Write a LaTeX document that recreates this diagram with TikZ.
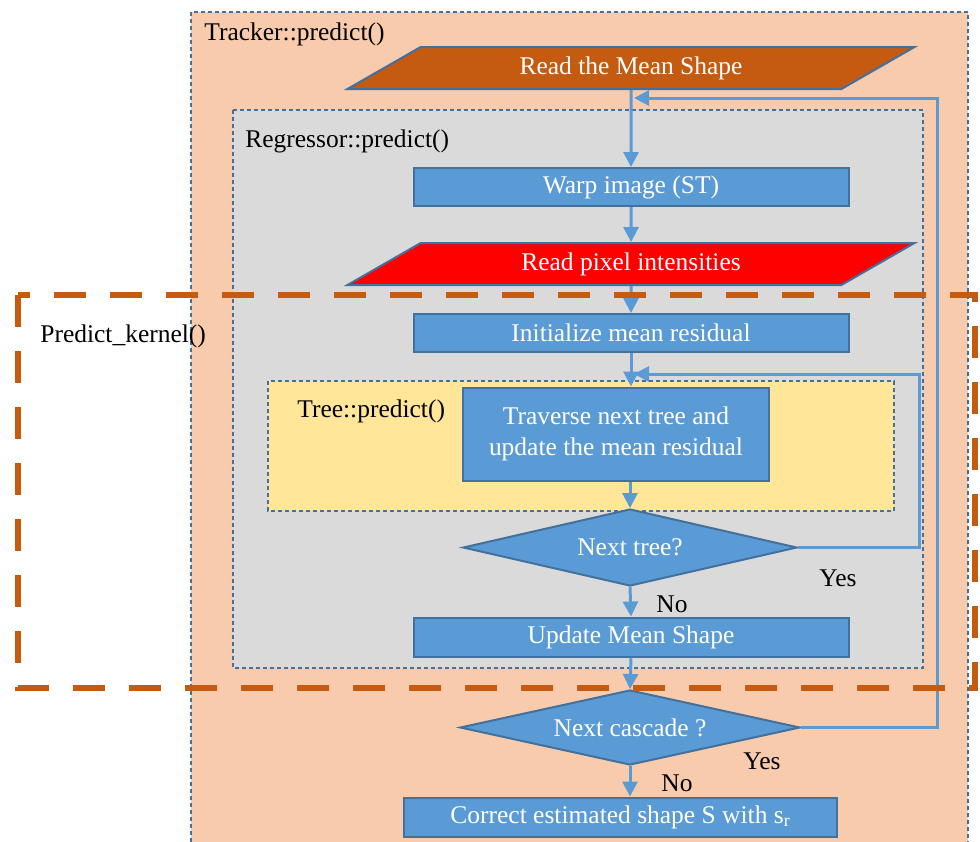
\documentclass[tikz,border=0pt]{standalone}
\usepackage{fontspec}
\setmainfont{Liberation Serif}
\usepackage{xcolor}
\usetikzlibrary{positioning,arrows.meta,shapes.geometric}
\definecolor{trackerPeach}{HTML}{F8CBAD}
\definecolor{regressorGrey}{HTML}{DADADA}
\definecolor{treeYellow}{HTML}{FFE699}
\definecolor{stepBlue}{HTML}{5B9BD5}
\definecolor{edgeBlue}{HTML}{41719C}
\definecolor{meanOrange}{HTML}{C55A11}
\definecolor{pixelRed}{HTML}{FF0000}

\begin{document}
\begin{tikzpicture}[
  x=0.2mm,y=-0.2mm,
  font=\fontsize{14.5}{17.6}\selectfont,
  box/.style={draw=edgeBlue,fill=stepBlue,line width=0.4mm,text=white,align=center,inner sep=2pt,minimum width=87mm,minimum height=7.6mm},
  io/.style={trapezium,trapezium left angle=20,trapezium right angle=160,trapezium stretches body,draw=edgeBlue,line width=0.4mm,text=white,inner sep=1pt,minimum width=113.4mm,minimum height=8.4mm},
  dec/.style={diamond,aspect=4.4,draw=edgeBlue,fill=stepBlue,line width=0.4mm,text=white,inner sep=0pt},
  frame/.style={draw=edgeBlue,line width=0.25mm,dash pattern=on 0.8mm off 0.6mm},
  kernelframe/.style={draw=meanOrange,line width=1.1mm,dash pattern=on 6.4mm off 4.8mm},
  lbl/.style={anchor=west,inner sep=0pt},
  arr/.style={-{Triangle[length=3mm,width=3mm]},line width=0.6mm,stepBlue}
]
\useasboundingbox (0,0) rectangle (980,841);
\clip (0,0) rectangle (980,841);

% nested scopes of the code
\draw[frame,fill=trackerPeach] (191,12) rectangle (968,880);
\draw[frame,fill=regressorGrey] (233,110) rectangle (923,668);
\draw[frame,fill=treeYellow] (268,381) rectangle (894,511);
\node[lbl] (tracker) at (204,34) {Tracker::predict()};
\node[lbl] (regressor) at (245,141) {Regressor::predict()};
\node[lbl] (tree) at (297,411) {Tree::predict()};

% main column
\node[io,fill=meanOrange] (meanshape) at (631,68) {Read the Mean Shape};
\node[box] (warp) at (631,187) {Warp image (ST)};
\node[io,fill=pixelRed] (pixels) at (631,264) {Read pixel intensities};
\node[box] (initres) at (631,333) {Initialize mean residual};
\node[box,minimum width=61.2mm,minimum height=18.6mm] (traverse) at (616,434) {Traverse next tree and\\update the mean residual};
\node[dec,minimum width=66.8mm,minimum height=15.4mm] (nexttree) at (630,547.5) {Next tree?};
\node[box,minimum height=7.8mm] (update) at (631,637) {Update Mean Shape};
\node[dec,minimum width=68mm,minimum height=15mm] (nextcasc) at (630,727.5) {Next cascade ?};
\node[box,minimum width=86.6mm,minimum height=7.8mm] (correct) at (620.5,817) {Correct estimated shape S with s\textsubscript{r}};

\node (yestree) at (838,578) {Yes};
\node (notree) at (672,604) {No};
\node (yescasc) at (762,761) {Yes};
\node (nocasc) at (677,783) {No};

\coordinate (treeright) at (919,374);
\coordinate (treejoin) at (634,374);
\coordinate (cascright) at (937,98);
\coordinate (cascjoin) at (634,98);

\draw[arr] (meanshape.south) -- (warp.north);
\draw[arr] (warp.south) -- (pixels.north);
\draw[arr] (pixels.south) -- (initres.north);
\draw[arr] (initres.south) -- (initres.south |- traverse.north);
\draw[arr] (nexttree.north |- traverse.south) -- (nexttree.north);
\draw[arr] (nexttree.south) -- (update.north);
\draw[arr] (update.south) -- (nextcasc.north);
\draw[arr] (nextcasc.south) -- (nextcasc.south |- correct.north);
\draw[arr] (nexttree.east) -| (treeright) -- (treejoin);
\draw[arr] (nextcasc.east) -| (cascright) -- (cascjoin);

% kernel region
\draw[kernelframe] (18,295) rectangle (975,688);
\node[lbl] (kernel) at (40,336) {Predict\_kernel()};
\end{tikzpicture}
\end{document}
